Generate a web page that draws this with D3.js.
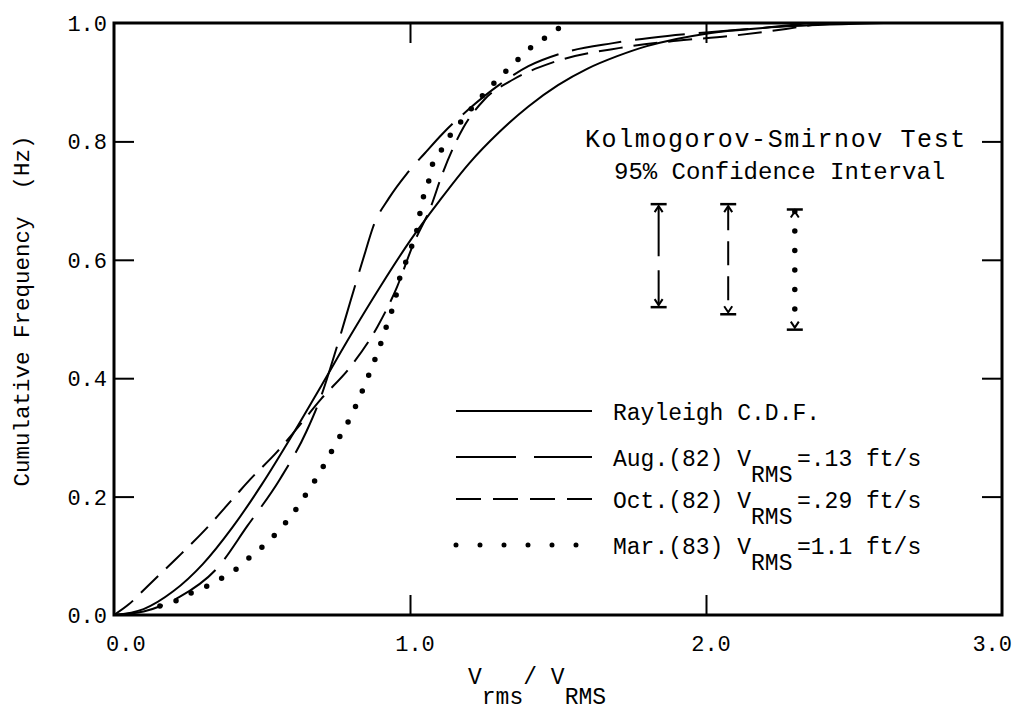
<!DOCTYPE html>
<html>
<head>
<meta charset="utf-8">
<script src="https://cdn.jsdelivr.net/npm/d3@7"></script>
<style>
  html, body { margin: 0; padding: 0; background: #fff; }
  svg text { font-family: "Liberation Mono", "Courier New", monospace; fill: #000; }
</style>
</head>
<body>
<svg id="chart" width="1017" height="722"></svg>
<script>
// Normalised velocity V_rms / V_RMS and cumulative frequency for each record
const rayleighX = [0, 0.1, 0.2, 0.3, 0.4, 0.5, 0.6, 0.7, 0.8, 0.9, 1.0, 1.1, 1.2, 1.3, 1.4, 1.5, 1.6, 1.7, 1.8, 1.9, 2.0, 2.2, 2.4, 2.6];
const rayleighY = [0, 0.01, 0.04, 0.086, 0.148, 0.221, 0.302, 0.387, 0.473, 0.555, 0.632, 0.70, 0.763, 0.815, 0.859, 0.895, 0.923, 0.944, 0.961, 0.973, 0.982, 0.992, 0.997, 1.0];

const augX = [0, 0.1, 0.22, 0.35, 0.45, 0.56, 0.65, 0.70, 0.75, 0.80, 0.85, 0.875, 0.93, 0.99, 1.05, 1.11, 1.2, 1.3, 1.4, 1.507, 1.686, 1.87, 2.0, 2.28, 2.35];
const augY = [0, 0.006, 0.03, 0.08, 0.15, 0.229, 0.31, 0.37, 0.448, 0.532, 0.615, 0.655, 0.705, 0.746, 0.78, 0.813, 0.855, 0.895, 0.927, 0.948, 0.966, 0.978, 0.984, 0.996, 1.0];

const octX = [0, 0.05, 0.11, 0.21, 0.31, 0.415, 0.46, 0.55, 0.61, 0.70, 0.80, 0.89, 0.956, 1.01, 1.07, 1.11, 1.18, 1.25, 1.35, 1.48, 1.71, 1.9, 2.08, 2.27, 2.4];
const octY = [0, 0.018, 0.047, 0.095, 0.145, 0.204, 0.229, 0.275, 0.31, 0.365, 0.42, 0.487, 0.554, 0.625, 0.689, 0.746, 0.823, 0.87, 0.905, 0.933, 0.958, 0.97, 0.978, 0.99, 1.0];

const marX = [0.155, 0.21, 0.26, 0.32, 0.38, 0.43, 0.47, 0.52, 0.56, 0.60, 0.63, 0.67, 0.70, 0.75, 0.80, 0.84, 0.87, 0.89, 0.91, 0.93, 0.95, 0.96, 0.98, 1.0, 1.02, 1.03, 1.04, 1.06, 1.07, 1.10, 1.13, 1.17, 1.21, 1.25, 1.30, 1.35, 1.395, 1.45, 1.5, 1.52];
const marY = [0.015, 0.024, 0.037, 0.05, 0.067, 0.084, 0.103, 0.123, 0.145, 0.168, 0.19, 0.22, 0.245, 0.29, 0.335, 0.38, 0.417, 0.443, 0.471, 0.503, 0.532, 0.559, 0.588, 0.616, 0.643, 0.668, 0.697, 0.724, 0.752, 0.78, 0.806, 0.832, 0.857, 0.88, 0.907, 0.931, 0.953, 0.973, 0.99, 1.0];

// 95% confidence interval bars (Aug, Oct, Mar)
const ciX  = [1.84, 2.075, 2.30];
const ciHi = [0.694, 0.694, 0.685];
const ciLo = [0.520, 0.508, 0.482];

// Axis ticks
const xTicks = [0, 1, 2, 3];
const xTickLabels = ["0.0", "1.0", "2.0", "3.0"];
const yTicks = [0, 0.2, 0.4, 0.6, 0.8, 1.0];
const yTickLabels = ["0.0", "0.2", "0.4", "0.6", "0.8", "1.0"];

const legendLabels = [
  { main: "Rayleigh C.D.F." },
  { main: "Aug.(82) V", sub: "RMS", rest: "=.13 ft/s" },
  { main: "Oct.(82) V", sub: "RMS", rest: "=.29 ft/s" },
  { main: "Mar.(83) V", sub: "RMS", rest: "=1.1 ft/s" }
];

const styles = [
  { dash: null,   width: 2,   cap: "butt",  legendDash: null },
  { dash: "50,14", width: 2,  cap: "butt",  legendDash: "60,18" },
  { dash: "24,11", width: 2,  cap: "butt",  legendDash: "25,12" },
  { dash: "0,17", width: 5.5, cap: "round", legendDash: "0,24" }
];

const svg = d3.select("#chart");
const mLeft = 114, mRight = 1002, mTop = 23, mBottom = 615;
const x = d3.scaleLinear().domain([0, 3]).range([mLeft, mRight]);
const y = d3.scaleLinear().domain([0, 1]).range([mBottom, mTop]);

const series = [
  d3.zip(rayleighX, rayleighY),
  d3.zip(augX, augY),
  d3.zip(octX, octY),
  d3.zip(marX, marY)
];

const line = d3.line().x(d => x(d[0])).y(d => y(d[1])).curve(d3.curveMonotoneX);

const plot = svg.append("g");
series.forEach((s, i) => {
  const st = styles[i];
  plot.append("path")
    .attr("d", line(s))
    .attr("fill", "none")
    .attr("stroke", "#000")
    .attr("stroke-width", st.width)
    .attr("stroke-linecap", st.cap)
    .attr("stroke-dasharray", st.dash);
});

// Frame
svg.append("rect")
  .attr("x", mLeft).attr("y", mTop)
  .attr("width", mRight - mLeft).attr("height", mBottom - mTop)
  .attr("fill", "none").attr("stroke", "#000").attr("stroke-width", 3);

// Inward ticks on all four sides
const tickLen = 20;
const inner = (a) => a.slice(1, -1);
const yAxisL = d3.axisRight(y).tickValues(inner(yTicks)).tickSize(tickLen).tickFormat("");
const yAxisR = d3.axisLeft(y).tickValues(inner(yTicks)).tickSize(tickLen).tickFormat("");
const xAxisB = d3.axisTop(x).tickValues(inner(xTicks)).tickSize(tickLen).tickFormat("");
const xAxisT = d3.axisBottom(x).tickValues(inner(xTicks)).tickSize(tickLen).tickFormat("");
[[yAxisL, `translate(${mLeft},0)`], [yAxisR, `translate(${mRight},0)`],
 [xAxisB, `translate(0,${mBottom})`], [xAxisT, `translate(0,${mTop})`]].forEach(([ax, tr]) => {
  const g = svg.append("g").attr("transform", tr).call(ax);
  g.select(".domain").remove();
  g.selectAll(".tick line").attr("stroke", "#000").attr("stroke-width", 2);
});

// Tick labels
svg.append("g").selectAll("text").data(yTicks).join("text")
  .attr("x", mLeft - 7)
  .attr("y", d => y(d))
  .attr("dy", "0.36em")
  .attr("text-anchor", "end")
  .attr("font-size", 22)
  .text((d, i) => yTickLabels[i]);

const nX = xTicks.length;
svg.append("g").selectAll("text").data(xTicks).join("text")
  .attr("x", (d, i) => x(d) + (i === 0 ? -8 : i === nX - 1 ? 10 : 5))
  .attr("y", 651)
  .attr("text-anchor", (d, i) => i === 0 ? "start" : i === nX - 1 ? "end" : "middle")
  .attr("font-size", 22)
  .text((d, i) => xTickLabels[i]);

// Axis titles
svg.append("text")
  .attr("transform", `translate(29,${(mTop + mBottom) / 2 - 8}) rotate(-90)`)
  .attr("text-anchor", "middle")
  .attr("font-size", 22.5)
  .attr("xml:space", "preserve")
  .text("Cumulative Frequency  (Hz)");

const xt = svg.append("text").attr("x", 468).attr("y", 684).attr("font-size", 23);
xt.append("tspan").text("V");
xt.append("tspan").attr("dy", 20).text("rms");
xt.append("tspan").attr("dy", -20).text("/ V");
xt.append("tspan").attr("dy", 20).text("RMS");

// Annotations
svg.append("text").attr("x", 585).attr("y", 147).attr("font-size", 25)
  .attr("letter-spacing", 1.6)
  .text("Kolmogorov-Smirnov Test");
svg.append("text").attr("x", 614).attr("y", 179).attr("font-size", 24)
  .text("95% Confidence Interval");

// Confidence interval bars
const ci = svg.append("g");
ciX.forEach((cx, i) => {
  const st = styles[i + 1];
  const px = x(cx), yh = y(ciHi[i]), yl = y(ciLo[i]);
  ci.append("line")
    .attr("x1", px).attr("x2", px).attr("y1", yh + 2).attr("y2", yl - 2)
    .attr("stroke", "#000")
    .attr("stroke-width", st.width)
    .attr("stroke-linecap", st.cap)
    .attr("stroke-dasharray", i === 2 ? "0,19.5" : st.dash);
  [[yh, 1], [yl, -1]].forEach(([yy, s]) => {
    ci.append("line")
      .attr("x1", px - 8).attr("x2", px + 8).attr("y1", yy).attr("y2", yy)
      .attr("stroke", "#000").attr("stroke-width", 2.5);
    ci.append("path")
      .attr("d", `M${px - 4},${yy + s * 8}L${px},${yy + s * 2}L${px + 4},${yy + s * 8}`)
      .attr("fill", "none").attr("stroke", "#000").attr("stroke-width", 2);
  });
});

// Legend
const legendRows = [411, 457, 499, 545];
const lg = svg.append("g");
legendLabels.forEach((lab, i) => {
  const st = styles[i];
  const ry = legendRows[i];
  lg.append("line")
    .attr("x1", 456).attr("x2", 592).attr("y1", ry).attr("y2", ry)
    .attr("stroke", "#000")
    .attr("stroke-width", i === 3 ? 5 : 2.2)
    .attr("stroke-linecap", st.cap)
    .attr("stroke-dasharray", st.legendDash);
  const t = lg.append("text").attr("x", 613).attr("y", ry + 9).attr("font-size", 23);
  t.append("tspan").text(lab.main);
  if (lab.sub) {
    t.append("tspan").attr("dy", 16).text(lab.sub);
    t.append("tspan").attr("x", 797).attr("dy", -16).text(lab.rest);
  }
});
</script>
</body>
</html>
